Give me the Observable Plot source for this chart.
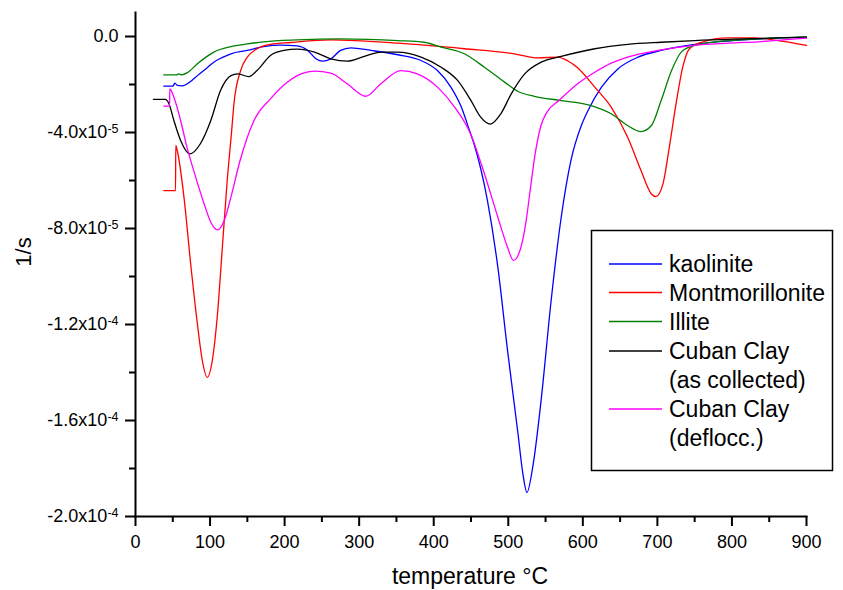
<!DOCTYPE html>
<html>
<head>
<meta charset="utf-8">
<script src="https://cdn.jsdelivr.net/npm/d3@7"></script>
<script src="https://cdn.jsdelivr.net/npm/@observablehq/plot@0.6"></script>
<style>
  html, body { margin: 0; padding: 0; background: #fff; }
  #chart { width: 843px; height: 590px; }
</style>
</head>
<body>
<div id="chart"></div>
<script>
// values in units of 1e-5 1/s, temperature in °C
const UNIT = 1e-5;

const seriesNames = ["kaolinite", "Montmorillonite", "Illite", "Cuban Clay (as collected)", "Cuban Clay (deflocc.)"];
const seriesColors = ["#0000ff", "#ff0000", "#008000", "#000000", "#ff00ff"];
const legendLines = [["kaolinite"], ["Montmorillonite"], ["Illite"], ["Cuban Clay", "(as collected)"], ["Cuban Clay", "(deflocc.)"]];

const kaolinite = [[38,-2.07],[50,-2.07],[53,-1.94],[56,-2.04],[62,-2.06],[68,-2.0],[75,-1.85],[83,-1.63],[95,-1.33],[105,-1.07],[116,-0.88],[128,-0.72],[150,-0.58],[172,-0.42],[195,-0.36],[217,-0.39],[231,-0.58],[242,-0.93],[251,-1.03],[262,-0.93],[275,-0.58],[289,-0.47],[316,-0.58],[352,-0.76],[383,-1.0],[405,-1.42],[423,-2.11],[437,-2.94],[448,-3.92],[454,-4.47],[472,-6.83],[486,-9.61],[499,-13.08],[513,-16.54],[519.5,-18.2],[525,-19.0],[533,-17.9],[544,-15.17],[557.5,-11.0],[571,-7.53],[584,-5.17],[598,-3.71],[607,-3.08],[625,-2.11],[647,-1.35],[674,-0.86],[705,-0.58],[750,-0.33],[795,-0.19],[840,-0.1],[900,-0.03]];

const montmorillonite = [[38,-6.42],[53.7,-6.42],[54,-4.54],[56,-4.75],[65,-6.69],[74,-9.47],[83,-11.97],[89.6,-13.5],[96.3,-14.2],[103,-13.5],[110,-11.55],[116.5,-8.78],[123,-6.0],[129,-3.92],[132,-2.81],[141,-1.42],[150,-0.86],[163,-0.51],[181,-0.33],[208,-0.25],[262,-0.14],[352,-0.28],[441,-0.51],[508,-0.72],[540,-0.89],[566,-0.86],[580,-1.02],[593,-1.3],[616,-2.11],[638,-2.94],[660,-4.19],[678,-5.58],[692,-6.56],[698,-6.67],[707.5,-6.14],[716,-4.61],[725,-2.81],[734,-1.28],[743,-0.51],[759,-0.24],[795,-0.06],[830,-0.06],[862,-0.17],[900,-0.37]];

const illite = [[38,-1.6],[55,-1.6],[58,-1.56],[62,-1.6],[70,-1.5],[83,-1.14],[95,-0.85],[105,-0.65],[128,-0.42],[150,-0.31],[172,-0.22],[217,-0.14],[275,-0.1],[352,-0.17],[387,-0.24],[410,-0.44],[441,-0.72],[468,-1.28],[495,-1.9],[513,-2.29],[535,-2.49],[571,-2.67],[611,-2.88],[638,-3.22],[660,-3.71],[678,-3.96],[692,-3.71],[705,-2.67],[719,-1.42],[732,-0.65],[750,-0.37],[795,-0.17],[900,-0.03]];

const cubanCollected = [[24,-2.62],[40,-2.62],[45,-2.81],[51.5,-3.5],[60.5,-4.33],[73,-4.89],[87,-4.47],[101,-3.5],[114,-2.25],[128,-1.63],[137,-1.56],[152,-1.67],[163,-1.42],[181,-0.79],[199,-0.58],[217,-0.53],[240,-0.65],[262,-0.93],[284,-1.03],[307,-0.83],[329,-0.65],[352,-0.65],[383,-0.86],[410,-1.28],[432,-1.83],[450,-2.67],[463,-3.36],[476,-3.65],[490,-3.22],[504,-2.39],[522,-1.56],[544,-1.07],[571,-0.83],[616,-0.51],[660,-0.33],[705,-0.24],[750,-0.17],[817,-0.1],[900,-0.03]];

const cubanDeflocc = [[38,-2.9],[45.7,-2.9],[46,-2.18],[51.5,-2.53],[60.5,-3.5],[69,-4.61],[78,-5.58],[92,-6.97],[101,-7.74],[110,-8.06],[119,-7.67],[128,-6.69],[140,-5.2],[150,-4.2],[159,-3.5],[181,-2.6],[204,-1.9],[222,-1.56],[240,-1.44],[262,-1.53],[284,-1.97],[309,-2.49],[329,-1.97],[356,-1.42],[378,-1.56],[405,-2.11],[428,-2.94],[450,-4.1],[468,-5.72],[486,-7.53],[499,-8.78],[507,-9.33],[517,-8.78],[524,-7.67],[529,-6.5],[536,-4.9],[544,-3.7],[552,-3.15],[568,-2.67],[593,-1.97],[616,-1.49],[638,-1.11],[660,-0.86],[705,-0.56],[750,-0.37],[795,-0.28],[840,-0.21],[900,-0.07]];

const xMajorTicks = [0,100,200,300,400,500,600,700,800,900];
const xMinorTicks = [50,150,250,350,450,550,650,750,850];
const yMajorTicks = [0,-4e-5,-8e-5,-1.2e-4,-1.6e-4,-2.0e-4];
const yMinorTicks = [-2e-5,-6e-5,-1.0e-4,-1.4e-4,-1.8e-4];
const yTickMantissa = ["0.0","-4.0x10","-8.0x10","-1.2x10","-1.6x10","-2.0x10"];
const yTickExponent = ["","-5","-5","-4","-4","-4"];

const allSeries = [kaolinite, montmorillonite, illite, cubanCollected, cubanDeflocc];
const data = allSeries.flatMap((pts, k) => pts.map(([t, v]) => ({series: seriesNames[k], t, v: v * UNIT})));

const yLabelMap = new Map(yMajorTicks.map((d, i) => [d, yTickMantissa[i]]));
const yExpMap = new Map(yTickMantissa.map((m, i) => [m, yTickExponent[i]]));

const chart = Plot.plot({
  width: 843,
  height: 590,
  marginLeft: 135,
  marginRight: 37,
  marginTop: 12,
  marginBottom: 74,
  style: {fontFamily: "'Liberation Sans', Arial, sans-serif", fontSize: "18px", background: "white", overflow: "visible", color: "black"},
  x: {domain: [0, 900]},
  y: {domain: [-2.0e-4, 1.0e-5]},
  color: {domain: seriesNames, range: seriesColors},
  marks: [
    Plot.line(data, {x: "t", y: "v", z: "series", stroke: "series", curve: "monotone-x", strokeWidth: 1.3}),
    Plot.axisX({ticks: xMinorTicks, tickSize: 6, tickFormat: () => "", label: null, strokeWidth: 2}),
    Plot.axisX({ticks: xMajorTicks, tickSize: 10, tickPadding: 9, tickFormat: d => String(d), label: null, strokeWidth: 2, fontSize: 18}),
    Plot.axisY({ticks: yMinorTicks, tickSize: 6, tickFormat: () => "", label: null, strokeWidth: 2}),
    Plot.axisY({ticks: yMajorTicks, tickSize: 10, tickPadding: 7, tickFormat: d => yLabelMap.get(d), label: null, strokeWidth: 2, fontSize: 18}),
    Plot.frame({anchor: "left", strokeWidth: 2}),
    Plot.frame({anchor: "bottom", strokeWidth: 2})
  ]
});

document.getElementById("chart").appendChild(chart);

const svg = d3.select(chart);

// superscript exponents on y tick labels
svg.selectAll("text").each(function() {
  const el = d3.select(this);
  const exp = yExpMap.get(el.text());
  if (exp) {
    el.append("tspan").attr("dy", "-0.45em").attr("font-size", "12.5px").text(exp);
  }
});

// axis titles
svg.append("text")
  .attr("x", 470).attr("y", 584)
  .attr("text-anchor", "middle")
  .attr("font-size", "23px")
  .attr("fill", "black")
  .text("temperature °C");

svg.append("text")
  .attr("transform", "translate(31,252) rotate(-90)")
  .attr("text-anchor", "middle")
  .attr("font-size", "22px")
  .attr("fill", "black")
  .text("1/s");

// legend
const lg = svg.append("g").attr("text-anchor", "start");
lg.append("rect")
  .attr("x", 591.5).attr("y", 230.5).attr("width", 241).attr("height", 240)
  .attr("fill", "white").attr("stroke", "black").attr("stroke-width", 1.5);
const rowY = [264, 292.5, 321.5, 351, 409];
legendLines.forEach((lines, k) => {
  const y = rowY[k];
  lg.append("line")
    .attr("x1", 609).attr("x2", 662).attr("y1", y).attr("y2", y)
    .attr("stroke", seriesColors[k]).attr("stroke-width", 1.3);
  lines.forEach((s, j) => {
    lg.append("text")
      .attr("x", 669).attr("y", y + j * 29)
      .attr("dy", "0.36em")
      .attr("text-anchor", "start")
      .attr("font-size", "23px")
      .attr("fill", "black")
      .text(s);
  });
});
</script>
</body>
</html>
